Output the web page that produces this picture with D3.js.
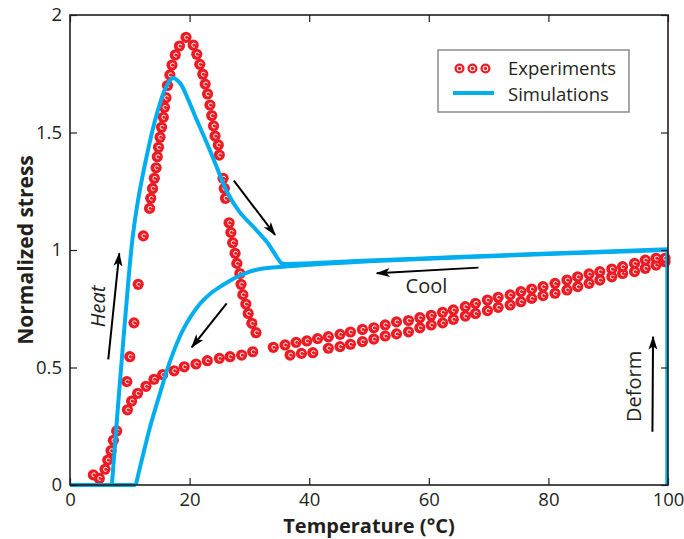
<!DOCTYPE html>
<html>
<head>
<meta charset="utf-8">
<script src="https://cdn.jsdelivr.net/npm/d3@7"></script>
<style>
  body { margin: 0; background: #fff; }
  text { font-family: "Open Sans", "Noto Sans", sans-serif; fill: #231f20; }
</style>
</head>
<body>
<div id="chart"></div>
<script>
const expHeat = [
  [3.9,0.043],[4.9,0.028],[5.85,0.067],[6.3,0.106],[6.86,0.146],[7.25,0.19],[7.8,0.23],
  [9.5,0.44],[10.0,0.546],[10.7,0.69],[11.4,0.854],[12.26,1.06],[13.3,1.177],[13.5,1.22],
  [13.8,1.262],[14.1,1.305],[14.4,1.35],[14.6,1.397],[14.8,1.437],[15.05,1.48],[15.3,1.522],
  [15.6,1.565],[15.8,1.607],[16.05,1.648],[16.3,1.70],[16.7,1.745],[17.05,1.787],[17.6,1.83],
  [18.3,1.868],[19.4,1.905],[20.6,1.872],[21.2,1.833],[21.7,1.79],[22.2,1.748],[22.6,1.706],
  [23.0,1.664],[23.4,1.617],[23.7,1.572],[24.0,1.528],[24.25,1.485],[24.8,1.447],[24.97,1.404],
  [25.6,1.305],[25.8,1.262],[26.0,1.22],[26.6,1.116],[26.9,1.075],[27.2,1.031],[27.6,0.986],
  [27.9,0.943],[28.4,0.90],[28.6,0.854],[28.9,0.81],[29.4,0.77],[29.8,0.73],[30.4,0.688],[31.1,0.648]
];
const expCoolLow = [
  [9.6,0.32],[10.3,0.357],[11.3,0.39],[12.7,0.42],[14.05,0.45],[15.5,0.47],[17.4,0.486],
  [19.1,0.503],[21.07,0.515],[22.96,0.529],[24.97,0.539],[26.76,0.546],[28.7,0.553],[30.55,0.567],[34,0.586]
];
const expBandUpper = [
  [35.95,0.596],[37.8,0.607],[39.6,0.613],[41.4,0.623],[43.2,0.631],[45.15,0.641],[46.9,0.651],
  [48.9,0.662],[50.8,0.669],[52.7,0.681],[54.6,0.694],[56.6,0.70],[58.5,0.712],[60.4,0.722],
  [62.3,0.735],[64.1,0.745],[66.1,0.759],[67.8,0.773],[69.8,0.787],[71.6,0.799],[73.6,0.809],
  [75.4,0.823],[77.2,0.834],[79.1,0.844],[81.1,0.858],[83.1,0.872],[84.9,0.886],[86.8,0.898],
  [88.6,0.908],[90.6,0.919],[92.4,0.929],[94.4,0.943],[96.2,0.957],[98.0,0.965],[99.5,0.965]
];
const expBandLower = [
  [36.8,0.553],[38.7,0.56],[40.6,0.563],[43.2,0.582],[45.15,0.589],[46.9,0.599],[48.9,0.61],
  [50.8,0.621],[52.7,0.634],[54.6,0.643],[56.6,0.652],[58.5,0.669],[60.4,0.681],[62.3,0.69],
  [64.1,0.705],[66.1,0.719],[67.8,0.73],[69.8,0.742],[71.6,0.756],[73.6,0.766],[75.4,0.78],
  [77.2,0.794],[79.1,0.806],[81.1,0.816],[83.1,0.83],[84.9,0.844],[86.8,0.858],[88.6,0.872],
  [90.6,0.886],[92.4,0.90],[94.4,0.908],[96.2,0.922],[98.0,0.936],[99.5,0.95]
];

// simulation curves (first two points are the flat start on the axis)
const simHeat = [
  [0,0],[7.0,0],[8.1,0.36],[9.0,0.64],[9.8,0.88],[10.5,1.06],[11.3,1.20],[12.1,1.31],
  [13.0,1.42],[14.0,1.53],[15.0,1.62],[16.0,1.69],[17.2,1.732],[18.4,1.71],[19.8,1.638],
  [21.2,1.553],[22.9,1.454],[24.5,1.355],[26.2,1.25],[28.4,1.16],[30.65,1.099],[32.9,1.035],
  [35.4,0.943],[35.8,0.941],[50,0.955],[65.8,0.971],[80,0.985],[100,1.003]
];
const simCool = [
  [0,0],[11.0,0],[12.0,0.106],[13.4,0.248],[15.05,0.39],[16.7,0.525],[18.9,0.66],[21.7,0.77],
  [23.5,0.815],[25.5,0.85],[27.5,0.88],[29.5,0.903],[32,0.92],[37.3,0.932],[50,0.952],
  [65.8,0.969],[80,0.983],[100,1.0]
];
const simDeform = [[99.8,0],[99.8,1.0]];

// annotation arrows [from, to] and labels
const arrows = [
  [[6.4,0.535],[8.24,0.986]],
  [[27.4,1.295],[34.3,1.064]],
  [[26.2,0.773],[20.35,0.586]],
  [[68.3,0.925],[51.3,0.901]],
  [[97.4,0.227],[97.5,0.631]]
];
const labels = [
  { text: "Heat", at: [4.7,0.76], rotate: -90, italic: true },
  { text: "Cool", at: [59.6,0.848], rotate: 0, italic: false },
  { text: "Deform", at: [94.3,0.42], rotate: -90, italic: false }
];

const xTicks = [0, 20, 40, 60, 80, 100];
const yTicks = [0, 0.5, 1, 1.5, 2];

const width = 684, height = 539;
const margin = { top: 15, right: 16, bottom: 54, left: 70 };
const red = "#ed1c24", blue = "#00aeef", ink = "#231f20";

const svg = d3.select("#chart").append("svg")
  .attr("width", width)
  .attr("height", height);

const x = d3.scaleLinear().domain([0, 100]).range([margin.left, width - margin.right]);
const y = d3.scaleLinear().domain([0, 2]).range([height - margin.bottom, margin.top]);

svg.append("defs").append("marker")
  .attr("id", "head")
  .attr("viewBox", "0 0 14 9")
  .attr("refX", 13).attr("refY", 4.5)
  .attr("markerWidth", 14).attr("markerHeight", 9)
  .attr("markerUnits", "userSpaceOnUse")
  .attr("orient", "auto")
  .append("path")
  .attr("d", "M0,0 L14,4.5 L0,9 L3.5,4.5 Z")
  .attr("fill", "#000");

// experiment dots: red disc with a small white "c"
const dots = expHeat.concat(expCoolLow, expBandLower, expBandUpper);
const dotG = svg.append("g").selectAll("g")
  .data(dots)
  .enter().append("g")
  .attr("transform", d => `translate(${x(d[0])},${y(d[1])})`);
dotG.append("circle").attr("r", 5.6).attr("fill", red);
dotG.append("circle").attr("r", 2).attr("cx", 0.6)
  .attr("fill", "none").attr("stroke", "#fff").attr("stroke-width", 1)
  .attr("stroke-dasharray", "9.08 3.49").attr("stroke-dashoffset", 10.83);

// simulations: straight flat leg on the axis, smooth curve after the corner
const flat = d3.line().x(d => x(d[0])).y(d => y(d[1]));
const smooth = d3.line().x(d => x(d[0])).y(d => y(d[1])).curve(d3.curveCatmullRom.alpha(0.5));
[simHeat, simCool].forEach(s => {
  const g = svg.append("g")
    .attr("fill", "none")
    .attr("stroke", blue)
    .attr("stroke-width", 4)
    .attr("stroke-linejoin", "round");
  g.append("path").attr("d", flat(s.slice(0, 2)));
  g.append("path").attr("d", smooth(s.slice(1)));
});
svg.append("path")
  .attr("d", flat(simDeform))
  .attr("stroke", blue).attr("stroke-width", 3).attr("fill", "none");

// arrows
svg.append("g").selectAll("line")
  .data(arrows)
  .enter().append("line")
  .attr("x1", d => x(d[0][0])).attr("y1", d => y(d[0][1]))
  .attr("x2", d => x(d[1][0])).attr("y2", d => y(d[1][1]))
  .attr("stroke", "#000").attr("stroke-width", 2)
  .attr("marker-end", "url(#head)");

svg.append("g").selectAll("text")
  .data(labels)
  .enter().append("text")
  .attr("transform", d => `translate(${x(d.at[0])},${y(d.at[1])}) rotate(${d.rotate})`)
  .attr("text-anchor", "middle")
  .attr("dy", "0.35em")
  .style("font-size", "20px")
  .style("font-style", d => d.italic ? "italic" : "normal")
  .text(d => d.text);

// axes: box with inward ticks on all four sides
const axes = [
  { axis: d3.axisBottom(x).tickValues(xTicks), t: `translate(0,${y(0)})`, labels: true, pad: 8 },
  { axis: d3.axisLeft(y).tickValues(yTicks), t: `translate(${x(0)},0)`, labels: true, pad: 8 },
  { axis: d3.axisTop(x).tickValues(xTicks), t: `translate(0,${y(2)})`, labels: false, pad: 8 },
  { axis: d3.axisRight(y).tickValues(yTicks), t: `translate(${x(100)},0)`, labels: false, pad: 8 }
];
axes.forEach(a => {
  const g = svg.append("g").attr("transform", a.t)
    .call(a.axis.tickSizeInner(-7).tickSizeOuter(0).tickPadding(a.pad)
      .tickFormat(a.labels ? d3.format("") : ""));
  g.select(".domain").remove();
  g.selectAll("line").attr("stroke", ink).attr("stroke-width", 1.2);
  g.selectAll("text").style("font-size", "18.5px").style("font-family", "'Open Sans', sans-serif").attr("fill", ink);
});

svg.append("rect")
  .attr("x", x(0)).attr("y", y(2))
  .attr("width", x(100) - x(0)).attr("height", y(0) - y(2))
  .attr("fill", "none").attr("stroke", ink).attr("stroke-width", 1.6);

// axis titles
svg.append("text")
  .attr("x", (x(0) + x(100)) / 2).attr("y", 533)
  .attr("text-anchor", "middle")
  .style("font-size", "20px").style("font-weight", "bold")
  .text("Temperature (°C)");

svg.append("text")
  .attr("transform", `translate(33,${(y(0) + y(2)) / 2}) rotate(-90)`)
  .attr("text-anchor", "middle")
  .style("font-size", "21px").style("font-weight", "bold")
  .text("Normalized stress");

// legend
const legend = svg.append("g");
legend.append("rect")
  .attr("x", 438).attr("y", 50).attr("width", 191).attr("height", 62)
  .attr("fill", "#fff").attr("stroke", "#8a8a8a").attr("stroke-width", 1.5);
const legDots = legend.selectAll("g.ld").data([0, 1, 2]).enter().append("g")
  .attr("transform", d => `translate(${459.5 + d * 13},68.5)`);
legDots.append("circle").attr("r", 5).attr("fill", red);
legDots.append("circle").attr("r", 2.2).attr("fill", "none").attr("stroke", "#fff").attr("stroke-width", 1.1);
legend.append("line")
  .attr("x1", 453).attr("x2", 494).attr("y1", 93).attr("y2", 93)
  .attr("stroke", blue).attr("stroke-width", 4);
legend.append("text").attr("x", 508).attr("y", 75).style("font-size", "18.5px").text("Experiments");
legend.append("text").attr("x", 508).attr("y", 101).style("font-size", "18.5px").text("Simulations");
</script>
</body>
</html>
